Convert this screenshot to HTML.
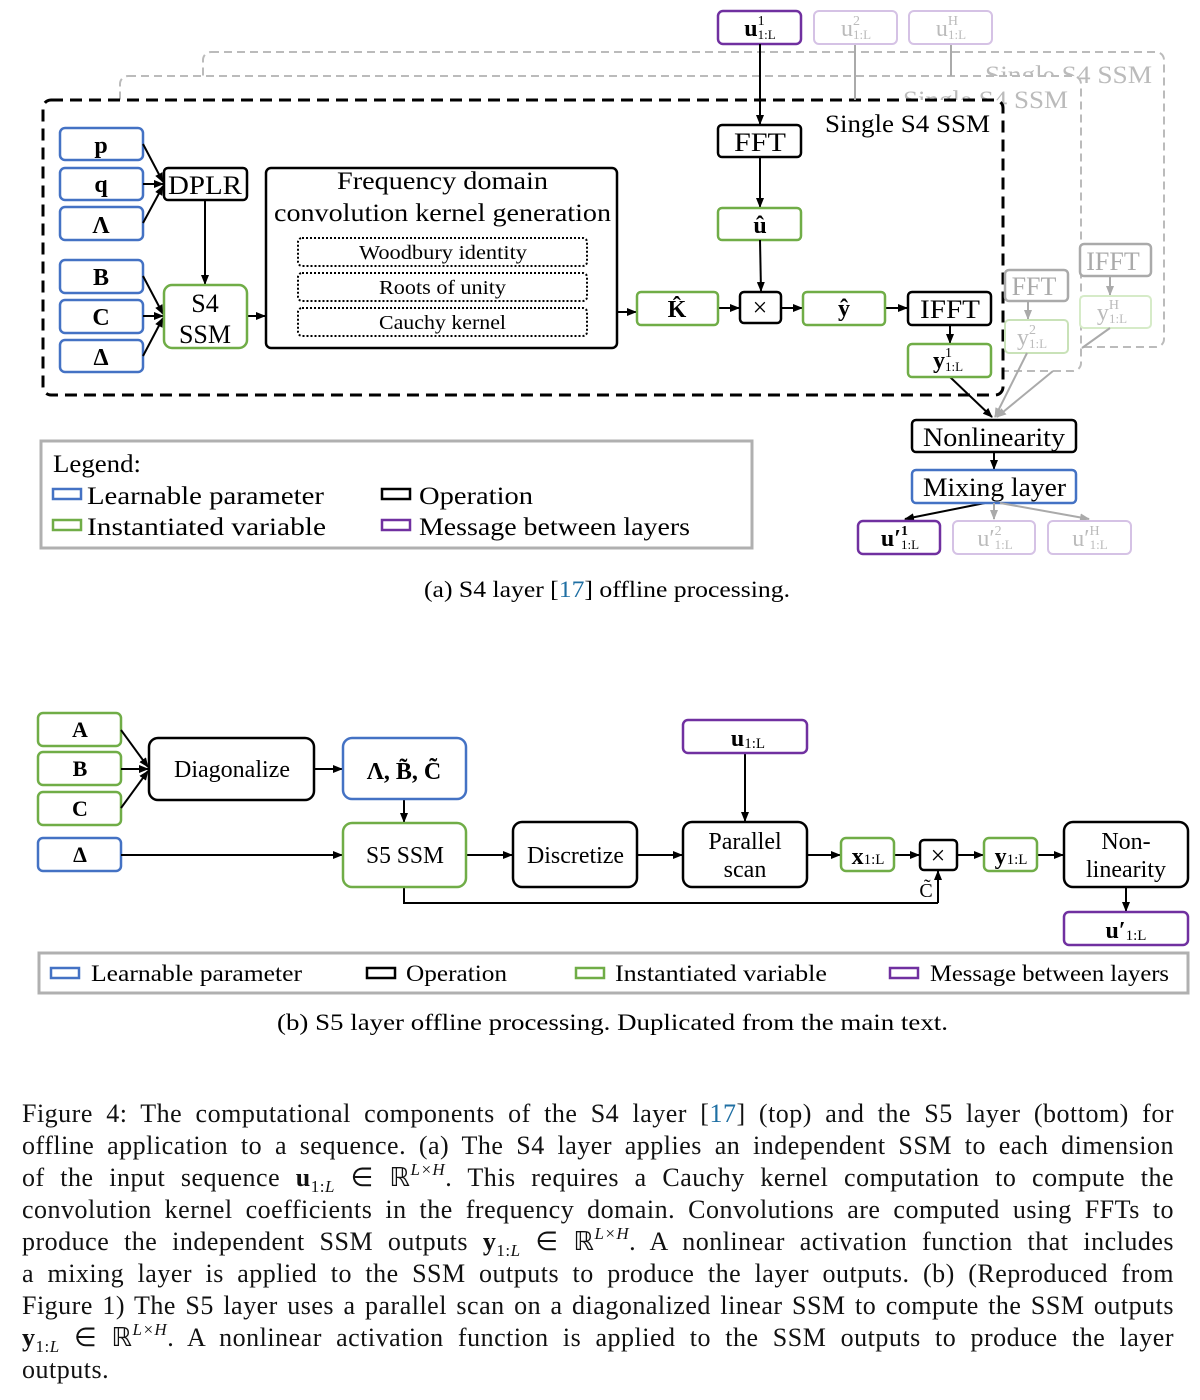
<!DOCTYPE html>
<html><head><meta charset="utf-8">
<style>
html,body{margin:0;padding:0;background:#fff;}
body{width:1200px;height:1400px;position:relative;overflow:hidden;font-family:"Liberation Serif",serif;}
svg text{font-family:"Liberation Serif",serif;}
.para{position:absolute;left:22px;width:1152px;font-size:26px;line-height:32px;color:#111;letter-spacing:0.5px;}
.ln{text-align:justify;text-align-last:justify;white-space:nowrap;height:32px;overflow:visible;}
.ln.last{text-align-last:left;}
.sb{font-size:17px;line-height:0;position:relative;top:6px;}
.sp{font-size:17px;line-height:0;position:relative;top:-11px;font-style:italic;}
</style></head><body>
<svg width="1200" height="1100" viewBox="0 0 1200 1100" style="position:absolute;left:0;top:0">
<defs>
<marker id="a" markerWidth="10" markerHeight="8" refX="9" refY="4" orient="auto" markerUnits="userSpaceOnUse"><path d="M0,0 L10,4 L0,8 z" fill="#000"/></marker>
<marker id="g" markerWidth="10" markerHeight="8" refX="9" refY="4" orient="auto" markerUnits="userSpaceOnUse"><path d="M0,0 L10,4 L0,8 z" fill="#aaa"/></marker>
</defs>
<g font-size="24" text-anchor="middle" fill="#000">
<rect x="203" y="52" width="961" height="295" rx="8" fill="#fff" stroke="#bbb" stroke-width="2" stroke-dasharray="8,5"/>
<text x="985" y="83" fill="#bbb" font-size="25" text-anchor="start" textLength="167" lengthAdjust="spacingAndGlyphs">Single S4 SSM</text>
<rect x="120" y="76" width="961" height="295" rx="8" fill="#fff" stroke="#bbb" stroke-width="2" stroke-dasharray="8,5"/>
<text x="903" y="108" fill="#bbb" font-size="25" text-anchor="start" textLength="165" lengthAdjust="spacingAndGlyphs">Single S4 SSM</text>
<line x1="951" y1="44" x2="951" y2="76" stroke="#aaa" stroke-width="2"/>
<rect x="43" y="100" width="960" height="295" rx="8" fill="#fff" stroke="#000" stroke-width="3" stroke-dasharray="12,7"/>
<line x1="855" y1="44" x2="855" y2="100" stroke="#aaa" stroke-width="2"/>
<text x="825" y="132" font-size="25" text-anchor="start" textLength="165" lengthAdjust="spacingAndGlyphs">Single S4 SSM</text>
<rect x="718" y="11" width="83" height="33" rx="5" fill="#fff" stroke="#7030a0" stroke-width="2.5"/>
<text x="760" y="36" font-weight="bold">u<tspan font-size="14" dy="-11" font-weight="normal">1</tspan><tspan font-size="13" dx="-7" dy="14" font-weight="normal">1:L</tspan></text>
<rect x="814" y="11" width="83" height="33" rx="5" fill="#fff" stroke="#d5c2e5" stroke-width="2"/>
<text x="856" y="36" fill="#bbb">u<tspan font-size="14" dy="-11">2</tspan><tspan font-size="13" dx="-7" dy="14">1:L</tspan></text>
<rect x="909" y="11" width="83" height="33" rx="5" fill="#fff" stroke="#d5c2e5" stroke-width="2"/>
<text x="951" y="36" fill="#bbb">u<tspan font-size="14" dy="-11">H</tspan><tspan font-size="13" dx="-10" dy="14">1:L</tspan></text>
<line x1="760" y1="44" x2="760" y2="124" stroke="#000" stroke-width="2" marker-end="url(#a)"/>
<rect x="718" y="125" width="83" height="32" rx="4" fill="#fff" stroke="#000" stroke-width="2.5"/>
<text x="760" y="151" font-size="26" textLength="52" lengthAdjust="spacingAndGlyphs">FFT</text>
<line x1="760" y1="157" x2="760" y2="207" stroke="#000" stroke-width="2" marker-end="url(#a)"/>
<rect x="718" y="208" width="83" height="32" rx="4" fill="#fff" stroke="#70ad47" stroke-width="2.5"/>
<text x="760" y="233" font-weight="bold">û</text>
<line x1="760" y1="240" x2="761" y2="291" stroke="#000" stroke-width="2" marker-end="url(#a)"/>
<g stroke="#4472c4" stroke-width="2.5" fill="#fff">
<rect x="60" y="128" width="83" height="32" rx="5"/><rect x="60" y="168" width="83" height="32" rx="5"/><rect x="60" y="207" width="83" height="33" rx="5"/>
<rect x="60" y="260" width="83" height="33" rx="5"/><rect x="60" y="300" width="83" height="33" rx="5"/><rect x="60" y="340" width="83" height="32" rx="5"/>
</g>
<g font-weight="bold">
<text x="101" y="153">p</text><text x="101" y="192">q</text><text x="101" y="233">Λ</text>
<text x="101" y="285">B</text><text x="101" y="325">C</text><text x="101" y="365">Δ</text>
</g>
<g stroke="#000" stroke-width="2" marker-end="url(#a)">
<line x1="143" y1="144" x2="163" y2="182"/><line x1="143" y1="184" x2="163" y2="184"/><line x1="143" y1="223" x2="163" y2="186"/>
<line x1="143" y1="276" x2="163" y2="314"/><line x1="143" y1="316" x2="163" y2="316"/><line x1="143" y1="356" x2="163" y2="318"/>
<line x1="205" y1="200" x2="205" y2="284"/>
<line x1="247" y1="316" x2="265" y2="316"/>
<line x1="617" y1="312" x2="636" y2="312"/>
<line x1="718" y1="308" x2="739" y2="308"/>
<line x1="781" y1="308" x2="802" y2="308"/>
<line x1="885" y1="308" x2="907" y2="308"/>
<line x1="950" y1="325" x2="950" y2="343"/>
<line x1="950" y1="377" x2="992" y2="417"/>
<line x1="994" y1="452" x2="994" y2="469"/>
<line x1="985" y1="503" x2="905" y2="519"/>
</g>
<rect x="164" y="168" width="83" height="32" rx="4" fill="#fff" stroke="#000" stroke-width="2.5"/>
<text x="205" y="194" font-size="26" textLength="74" lengthAdjust="spacingAndGlyphs">DPLR</text>
<rect x="164" y="285" width="83" height="63" rx="8" fill="#fff" stroke="#70ad47" stroke-width="2.5"/>
<text x="205" y="312" font-size="26">S4</text><text x="205" y="343" font-size="26">SSM</text>
<rect x="266" y="168" width="351" height="180" rx="5" fill="#fff" stroke="#000" stroke-width="2.5"/>
<text x="337" y="189" font-size="25" text-anchor="start" textLength="211" lengthAdjust="spacingAndGlyphs">Frequency domain</text>
<text x="274" y="221" font-size="25" text-anchor="start" textLength="337" lengthAdjust="spacingAndGlyphs">convolution kernel generation</text>
<g fill="none" stroke="#000" stroke-width="2" stroke-dasharray="2,2">
<rect x="298" y="238" width="289" height="28" rx="4"/><rect x="298" y="273" width="289" height="28" rx="4"/><rect x="298" y="308" width="289" height="28" rx="4"/>
</g>
<g font-size="20" text-anchor="start">
<text x="359" y="259" textLength="168" lengthAdjust="spacingAndGlyphs">Woodbury identity</text>
<text x="379" y="294" textLength="127" lengthAdjust="spacingAndGlyphs">Roots of unity</text>
<text x="379" y="329" textLength="127" lengthAdjust="spacingAndGlyphs">Cauchy kernel</text></g>
<rect x="637" y="292" width="81" height="33" rx="4" fill="#fff" stroke="#70ad47" stroke-width="2.5"/>
<text x="677" y="317" font-weight="bold">K̂</text>
<rect x="740" y="292" width="41" height="31" rx="4" fill="#fff" stroke="#000" stroke-width="2.5"/>
<text x="760" y="316" font-size="26">×</text>
<rect x="803" y="292" width="82" height="33" rx="4" fill="#fff" stroke="#70ad47" stroke-width="2.5"/>
<text x="844" y="316" font-weight="bold">ŷ</text>
<rect x="908" y="292" width="83" height="33" rx="4" fill="#fff" stroke="#000" stroke-width="2.5"/>
<text x="950" y="318" font-size="26" textLength="60" lengthAdjust="spacingAndGlyphs">IFFT</text>
<rect x="908" y="344" width="83" height="33" rx="4" fill="#fff" stroke="#70ad47" stroke-width="2.5"/>
<text x="948" y="368" font-weight="bold">y<tspan font-size="14" dy="-11" font-weight="normal">1</tspan><tspan font-size="13" dx="-7" dy="14" font-weight="normal">1:L</tspan></text>
<rect x="1005" y="270" width="63" height="31" rx="4" fill="#fff" stroke="#aaa" stroke-width="2.5"/>
<text x="1034" y="295" font-size="26" fill="#aaa">FFT</text>
<line x1="1028" y1="301" x2="1028" y2="319" stroke="#aaa" stroke-width="2" marker-end="url(#g)"/>
<rect x="1005" y="320" width="63" height="33" rx="4" fill="#fff" stroke="#c9e2b8" stroke-width="2"/>
<text x="1032" y="345" fill="#bbb">y<tspan font-size="14" dy="-11">2</tspan><tspan font-size="13" dx="-7" dy="14">1:L</tspan></text>
<rect x="1080" y="244" width="71" height="32" rx="4" fill="#fff" stroke="#aaa" stroke-width="2.5"/>
<text x="1113" y="270" font-size="26" fill="#aaa">IFFT</text>
<line x1="1110" y1="276" x2="1110" y2="295" stroke="#aaa" stroke-width="2" marker-end="url(#g)"/>
<rect x="1080" y="296" width="71" height="32" rx="4" fill="#fff" stroke="#d6ebc8" stroke-width="2"/>
<text x="1112" y="320" fill="#bbb">y<tspan font-size="14" dy="-11">H</tspan><tspan font-size="13" dx="-10" dy="14">1:L</tspan></text>
<g stroke="#aaa" stroke-width="2" marker-end="url(#g)">
<line x1="1027" y1="353" x2="995" y2="417"/>
<line x1="1053" y1="371" x2="997" y2="417"/>
</g>
<line x1="1110" y1="328" x2="1082" y2="348" stroke="#aaa" stroke-width="2"/>
<rect x="912" y="420" width="164" height="32" rx="4" fill="#fff" stroke="#000" stroke-width="2.5"/>
<text x="923" y="446" font-size="26" text-anchor="start" textLength="142" lengthAdjust="spacingAndGlyphs">Nonlinearity</text>
<rect x="912" y="470" width="164" height="33" rx="4" fill="#fff" stroke="#4472c4" stroke-width="2.5"/>
<text x="923" y="496" font-size="26" text-anchor="start" textLength="143" lengthAdjust="spacingAndGlyphs">Mixing layer</text>
<g stroke="#aaa" stroke-width="2" marker-end="url(#g)">
<line x1="994" y1="503" x2="994" y2="519"/><line x1="1000" y1="503" x2="1089" y2="519"/>
</g>
<rect x="858" y="521" width="82" height="33" rx="5" fill="#fff" stroke="#7030a0" stroke-width="2.5"/>
<text x="900" y="546" font-weight="bold">u′<tspan font-size="14" dy="-11">1</tspan><tspan font-size="13" dx="-7" dy="14" font-weight="normal">1:L</tspan></text>
<rect x="953" y="521" width="82" height="33" rx="5" fill="#fff" stroke="#d5c2e5" stroke-width="2"/>
<text x="995" y="546" fill="#bbb">u′<tspan font-size="14" dy="-11">2</tspan><tspan font-size="13" dx="-7" dy="14">1:L</tspan></text>
<rect x="1048" y="521" width="83" height="33" rx="5" fill="#fff" stroke="#d5c2e5" stroke-width="2"/>
<text x="1090" y="546" fill="#bbb">u′<tspan font-size="14" dy="-11">H</tspan><tspan font-size="13" dx="-10" dy="14">1:L</tspan></text>
<rect x="41" y="441" width="711" height="107" fill="#fff" stroke="#b0b0b0" stroke-width="3"/>
<g text-anchor="start" font-size="25">
<text x="53" y="472" textLength="88" lengthAdjust="spacingAndGlyphs">Legend:</text>
<text x="87" y="504" textLength="237" lengthAdjust="spacingAndGlyphs">Learnable parameter</text>
<text x="87" y="535" textLength="239" lengthAdjust="spacingAndGlyphs">Instantiated variable</text>
<text x="419" y="504" textLength="114" lengthAdjust="spacingAndGlyphs">Operation</text>
<text x="419" y="535" textLength="271" lengthAdjust="spacingAndGlyphs">Message between layers</text>
</g>
<rect x="53" y="489" width="28" height="10" fill="none" stroke="#4472c4" stroke-width="2.5"/>
<rect x="53" y="520" width="28" height="10" fill="none" stroke="#70ad47" stroke-width="2.5"/>
<rect x="382" y="489" width="28" height="10" fill="none" stroke="#000" stroke-width="2.5"/>
<rect x="382" y="520" width="28" height="10" fill="none" stroke="#7030a0" stroke-width="2.5"/>
<text x="424" y="597" font-size="23" text-anchor="start" textLength="366" lengthAdjust="spacingAndGlyphs">(a) S4 layer [<tspan fill="#1f6fa3">17</tspan>] offline processing.</text>

<g stroke="#70ad47" stroke-width="2.5" fill="#fff">
<rect x="38" y="713" width="83" height="33" rx="5"/><rect x="38" y="752" width="83" height="33" rx="5"/><rect x="38" y="792" width="83" height="33" rx="5"/>
</g>
<rect x="38" y="838" width="83" height="33" rx="5" fill="#fff" stroke="#4472c4" stroke-width="2.5"/>
<g font-weight="bold" font-size="22"><text x="80" y="737">A</text><text x="80" y="776">B</text><text x="80" y="816">C</text><text x="80" y="862">Δ</text></g>
<g stroke="#000" stroke-width="2" marker-end="url(#a)">
<line x1="121" y1="730" x2="148" y2="767"/><line x1="121" y1="769" x2="148" y2="769"/><line x1="121" y1="808" x2="148" y2="771"/>
<line x1="121" y1="855" x2="342" y2="855"/>
<line x1="314" y1="769" x2="342" y2="769"/>
<line x1="404" y1="799" x2="404" y2="822"/>
<line x1="466" y1="855" x2="512" y2="855"/>
<line x1="637" y1="855" x2="682" y2="855"/>
<line x1="745" y1="753" x2="745" y2="821"/>
<line x1="807" y1="855" x2="840" y2="855"/>
<line x1="894" y1="855" x2="919" y2="855"/>
<line x1="957" y1="855" x2="983" y2="855"/>
<line x1="1037" y1="855" x2="1063" y2="855"/>
<line x1="1126" y1="887" x2="1126" y2="911"/>
<line x1="938" y1="903" x2="938" y2="871"/>
</g>
<polyline points="404,887 404,903 938,903" fill="none" stroke="#000" stroke-width="2"/>
<rect x="149" y="738" width="165" height="62" rx="9" fill="#fff" stroke="#000" stroke-width="2.5"/>
<text x="174" y="777" text-anchor="start" textLength="116" lengthAdjust="spacingAndGlyphs">Diagonalize</text>
<rect x="343" y="738" width="123" height="61" rx="9" fill="#fff" stroke="#4472c4" stroke-width="2.5"/>
<text x="404" y="779" font-weight="bold">Λ, B̃, C̃</text>
<rect x="343" y="823" width="123" height="64" rx="9" fill="#fff" stroke="#70ad47" stroke-width="2.5"/>
<text x="366" y="863" text-anchor="start" textLength="78" lengthAdjust="spacingAndGlyphs">S5 SSM</text>
<rect x="513" y="822" width="124" height="65" rx="9" fill="#fff" stroke="#000" stroke-width="2.5"/>
<text x="527" y="863" text-anchor="start" textLength="97" lengthAdjust="spacingAndGlyphs">Discretize</text>
<rect x="683" y="822" width="124" height="65" rx="9" fill="#fff" stroke="#000" stroke-width="2.5"/>
<text x="745" y="849">Parallel</text><text x="745" y="877">scan</text>
<rect x="683" y="720" width="124" height="33" rx="5" fill="#fff" stroke="#7030a0" stroke-width="2.5"/>
<text x="748" y="746" font-weight="bold">u<tspan font-size="15" font-weight="normal" dy="2">1:L</tspan></text>
<rect x="841" y="838" width="53" height="33" rx="5" fill="#fff" stroke="#70ad47" stroke-width="2.5"/>
<text x="868" y="864" font-weight="bold">x<tspan font-size="15" font-weight="normal">1:L</tspan></text>
<rect x="920" y="840" width="37" height="30" rx="4" fill="#fff" stroke="#000" stroke-width="2.5"/>
<text x="938" y="864" font-size="26">×</text>
<text x="926" y="897" font-size="20">C̃</text>
<rect x="984" y="838" width="53" height="33" rx="5" fill="#fff" stroke="#70ad47" stroke-width="2.5"/>
<text x="1011" y="864" font-weight="bold">y<tspan font-size="15" font-weight="normal">1:L</tspan></text>
<rect x="1064" y="822" width="124" height="65" rx="9" fill="#fff" stroke="#000" stroke-width="2.5"/>
<text x="1126" y="849">Non-</text><text x="1126" y="877">linearity</text>
<rect x="1064" y="912" width="124" height="33" rx="5" fill="#fff" stroke="#7030a0" stroke-width="2.5"/>
<text x="1126" y="938" font-weight="bold">u′<tspan font-size="15" font-weight="normal" dy="2">1:L</tspan></text>
<rect x="39" y="953" width="1149" height="40" fill="#fff" stroke="#b0b0b0" stroke-width="3"/>
<rect x="51" y="968" width="28" height="10" fill="none" stroke="#4472c4" stroke-width="2.5"/>
<rect x="367" y="968" width="28" height="10" fill="none" stroke="#000" stroke-width="2.5"/>
<rect x="576" y="968" width="28" height="10" fill="none" stroke="#70ad47" stroke-width="2.5"/>
<rect x="890" y="968" width="28" height="10" fill="none" stroke="#7030a0" stroke-width="2.5"/>
<g text-anchor="start" font-size="23">
<text x="91" y="981" textLength="211" lengthAdjust="spacingAndGlyphs">Learnable parameter</text>
<text x="406" y="981" textLength="101" lengthAdjust="spacingAndGlyphs">Operation</text>
<text x="615" y="981" textLength="212" lengthAdjust="spacingAndGlyphs">Instantiated variable</text>
<text x="930" y="981" textLength="239" lengthAdjust="spacingAndGlyphs">Message between layers</text>
</g>
<text x="277" y="1030" font-size="23" text-anchor="start" textLength="671" lengthAdjust="spacingAndGlyphs">(b) S5 layer offline processing. Duplicated from the main text.</text>
</g>
</svg>
<div class="para" style="top:1098px">
<div class="ln">Figure 4: The computational components of the S4 layer [<span style="color:#1f6fa3">17</span>] (top) and the S5 layer (bottom) for</div>
<div class="ln">offline application to a sequence. (a) The S4 layer applies an independent SSM to each dimension</div>
<div class="ln">of the input sequence <b>u</b><span class="sb">1:<i>L</i></span> ∈ ℝ<span class="sp">L×H</span>. This requires a Cauchy kernel computation to compute the</div>
<div class="ln">convolution kernel coefficients in the frequency domain. Convolutions are computed using FFTs to</div>
<div class="ln">produce the independent SSM outputs <b>y</b><span class="sb">1:<i>L</i></span> ∈ ℝ<span class="sp">L×H</span>. A nonlinear activation function that includes</div>
<div class="ln">a mixing layer is applied to the SSM outputs to produce the layer outputs. (b) (Reproduced from</div>
<div class="ln">Figure 1) The S5 layer uses a parallel scan on a diagonalized linear SSM to compute the SSM outputs</div>
<div class="ln"><b>y</b><span class="sb">1:<i>L</i></span> ∈ ℝ<span class="sp">L×H</span>. A nonlinear activation function is applied to the SSM outputs to produce the layer</div>
<div class="ln last">outputs.</div>
</div>
</body></html>
